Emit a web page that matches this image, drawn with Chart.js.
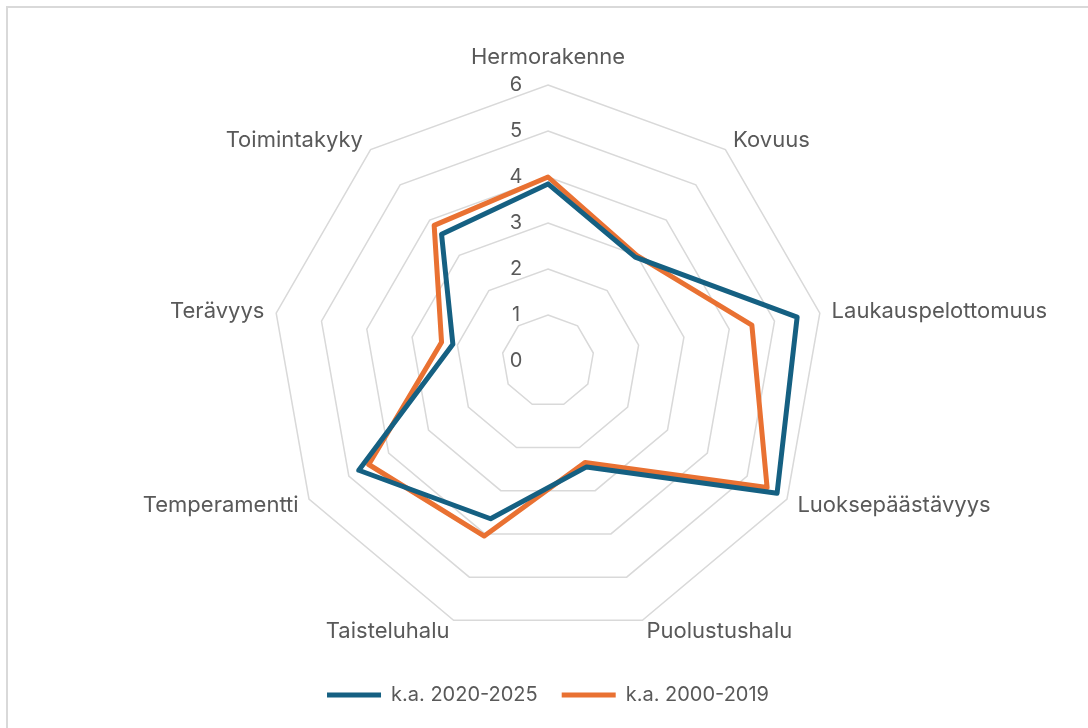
<!DOCTYPE html>
<html>
<head>
<meta charset="utf-8">
<script src="https://cdn.jsdelivr.net/npm/chart.js@4"></script>
<style>
  html, body { margin: 0; padding: 0; background: #fff; overflow: hidden; }
  #frame { position: absolute; left: 6px; top: 6px; width: 1200px; height: 800px; border: 2px solid #d9d9d9; }
  #wrap { position: absolute; left: 0; top: 0; width: 1088px; height: 728px; }
</style>
</head>
<body>
<div id="frame"></div>
<div id="wrap"><canvas id="myChart"></canvas></div>
<script>
let kategoriat = ["Hermorakenne", "Kovuus", "Laukauspelottomuus", "Luoksepäästävyys", "Puolustushalu", "Taisteluhalu", "Temperamentti", "Terävyys", "Toimintakyky"];
let ka2020 = [3.85, 2.95, 5.5, 5.75, 2.45, 3.65, 4.75, 2.1, 3.6];
let ka2000 = [4.0, 3.0, 4.5, 5.5, 2.35, 4.05, 4.5, 2.35, 3.85];
let tikit = [0, 1, 2, 3, 4, 5, 6];

let fontti = "Inter, 'Noto Sans', sans-serif";
let tekstiVari = "#595959";

// akselien nimet ja asteikon numerot piirretaan itse
const omatTekstit = {
    id: "omatTekstit",
    afterDraw(chart) {
        let r = chart.scales.r;
        let ctx = chart.ctx;
        ctx.save();
        ctx.fillStyle = tekstiVari;
        ctx.font = "20px " + fontti;
        ctx.textBaseline = "middle";
        ctx.textAlign = "center";
        tikit.forEach((t) => {
            let d = r.getDistanceFromCenterForValue(t);
            ctx.fillText(String(t), r.xCenter - 32, r.yCenter - d);
        });
        ctx.font = "22px " + fontti;
        let n = kategoriat.length;
        kategoriat.forEach((nimi, i) => {
            let p = r.getPointPosition(i, r.drawingArea + 12);
            let kulma = 360 * i / n;
            let y = p.y;
            if (i === 0) {
                ctx.textAlign = "center";
                y -= 16;
            } else if (kulma < 180) {
                ctx.textAlign = "left";
            } else {
                ctx.textAlign = "right";
            }
            ctx.fillText(nimi, p.x, y);
        });
        ctx.restore();
    }
};

let ctx = document.querySelector("#myChart");
let myChart = new Chart(ctx, {
    type: "radar",
    data: {
        labels: kategoriat,
        datasets: [{
            label: "k.a. 2020-2025",
            data: ka2020,
            borderColor: "#156082",
            backgroundColor: "#156082",
            borderWidth: 5,
            borderJoinStyle: "round",
            borderCapStyle: "round",
            pointRadius: 0,
            fill: false
        }, {
            label: "k.a. 2000-2019",
            data: ka2000,
            borderColor: "#E97132",
            backgroundColor: "#E97132",
            borderWidth: 5,
            borderJoinStyle: "round",
            borderCapStyle: "round",
            pointRadius: 0,
            fill: false
        }]
    },
    options: {
        responsive: true,
        maintainAspectRatio: false,
        animation: false,
        events: [],
        layout: {
            padding: { left: 272, right: 264, top: 61, bottom: 13 }
        },
        scales: {
            r: {
                min: 0,
                max: 6,
                ticks: { stepSize: 1, display: false },
                pointLabels: { display: false },
                angleLines: { display: false },
                grid: { color: "#d9d9d9", lineWidth: 1.5 }
            }
        },
        plugins: {
            tooltip: { enabled: false },
            legend: {
                position: "bottom",
                labels: {
                    usePointStyle: true,
                    pointStyle: "line",
                    pointStyleWidth: 54,
                    padding: 24,
                    color: tekstiVari,
                    font: { size: 20, family: fontti }
                }
            }
        }
    },
    plugins: [omatTekstit]
});
</script>
</body>
</html>
